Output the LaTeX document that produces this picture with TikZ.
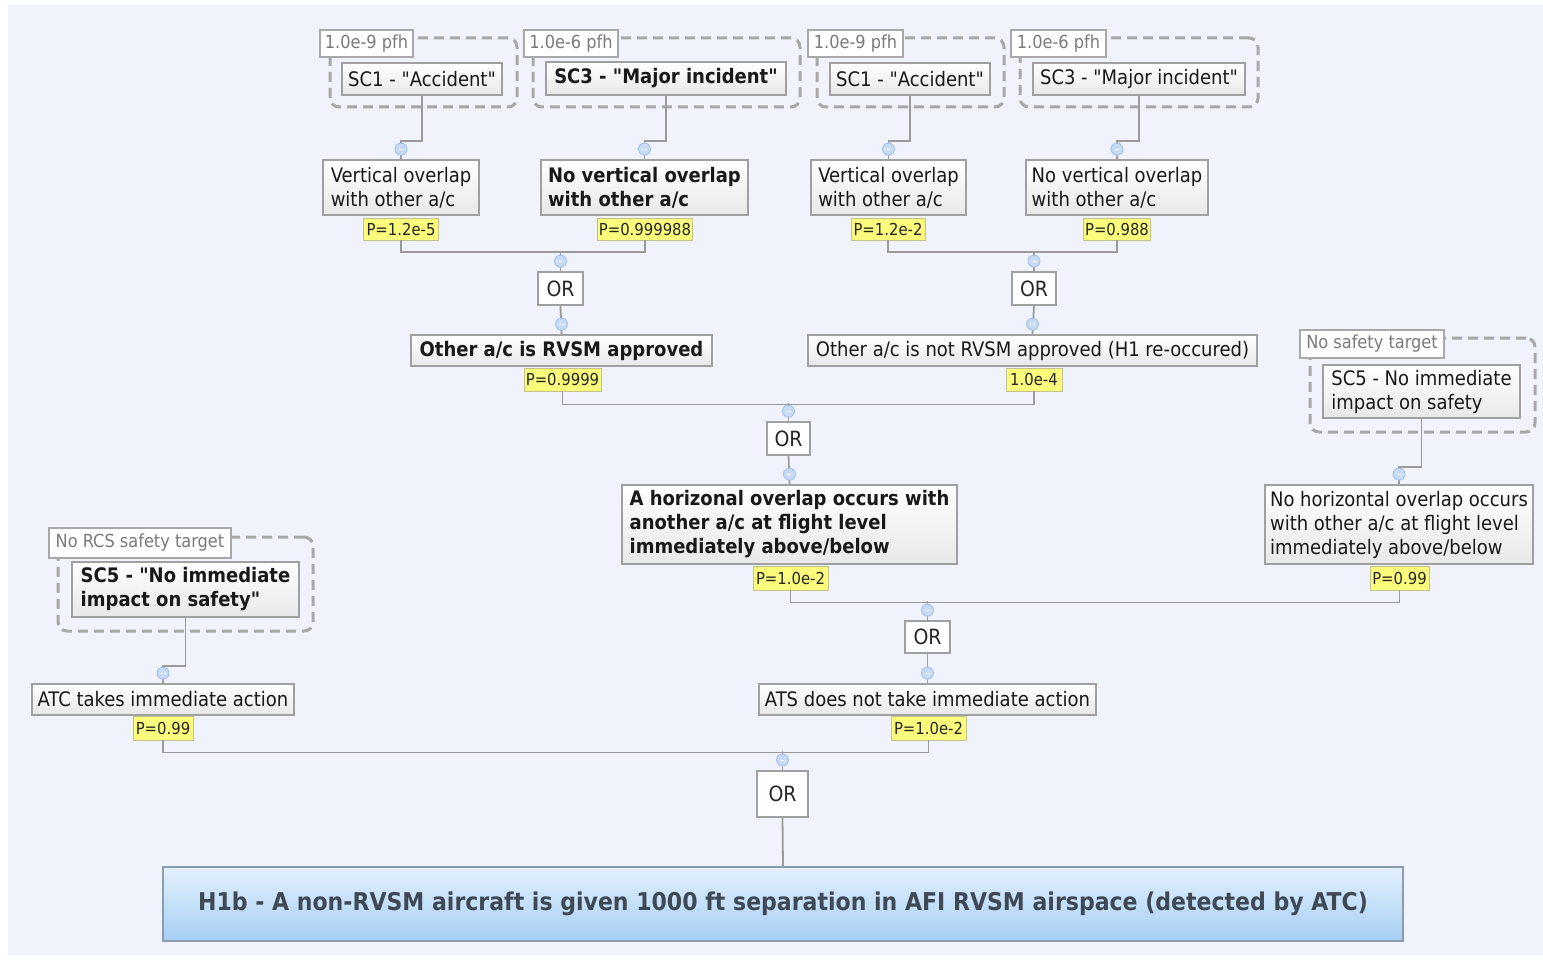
\documentclass[tikz,border=0pt]{standalone}
\usepackage{fontspec}
\setmainfont{DejaVu Sans Condensed}[Ligatures=TeXOff]
\definecolor{bgc}{HTML}{F0F3FB}
\definecolor{linkc}{HTML}{9A9A9A}
\definecolor{boxc}{HTML}{A0A0A0}
\definecolor{boxlow}{HTML}{E8E8E8}
\definecolor{tabc}{HTML}{A8A8A8}
\definecolor{tabtxt}{HTML}{7A7A7A}
\definecolor{tagc}{HTML}{FCFC7C}
\definecolor{tagline}{HTML}{C2C28C}
\definecolor{knobc}{HTML}{C6DBF6}
\definecolor{knobline}{HTML}{9EBDE9}
\definecolor{roottop}{HTML}{E3F0FD}
\definecolor{rootlow}{HTML}{A6CFF4}
\definecolor{rootline}{HTML}{8C9DB0}
\definecolor{roottxt}{HTML}{3F4955}
\tikzset{
  box/.style={draw=boxc, line width=1.7, top color=white, bottom color=boxlow,
    inner sep=0pt, align=left, text=black!90, font=\fontsize{20}{24}\selectfont},
  boldbox/.style={box, font=\fontsize{20}{24}\selectfont\bfseries},
  orbox/.style={draw=boxc, line width=1.7, fill=white, inner sep=0pt,
    text=black!85, font=\fontsize{21}{24}\selectfont},
  tag/.style={draw=tagline, line width=0.8, fill=tagc, inner sep=0pt,
    text=black!85, font=\fontsize{16.5}{19}\selectfont},
  tab/.style={draw=tabc, line width=2.8, fill=white, inner sep=0pt,
    text=tabtxt, font=\fontsize{18}{20}\selectfont},
  frame/.style={draw=tabc, line width=3, dash pattern=on 10pt off 6pt,
    rounded corners=9pt, inner sep=0pt},
  link/.style={draw=linkc, line width=1.8},
  knob/.style={circle, draw=knobline, fill=knobc, line width=0.8,
    minimum size=12pt, inner sep=0pt,
    path picture={\draw[white, line width=1] ([xshift=-2.5pt]path picture bounding box.center) -- ([xshift=2.5pt]path picture bounding box.center);}},
  rootbox/.style={draw=rootline, line width=1.6, top color=roottop, bottom color=rootlow,
    inner sep=0pt, text=roottxt, font=\fontsize{24.5}{28}\selectfont\bfseries},
  sz/.style 2 args={minimum width=#1pt, minimum height=#2pt}
}
\begin{document}
\begin{tikzpicture}[x=1pt,y=-1pt]
\useasboundingbox (0,0) rectangle (1543,960);
\fill[bgc] (8,5) rectangle (1543,955);

% ---- safety-target groups (dashed frames, tabs, severity classes)
\node[frame, sz={187}{69}] (g1) at (423.5,72.5) {};
\node[frame, sz={267}{69}] (g2) at (666.5,72.5) {};
\node[frame, sz={187}{69}] (g3) at (910.5,72.5) {};
\node[frame, sz={238}{69}] (g4) at (1139,72.5) {};
\node[frame, sz={225}{94}] (g5) at (1422.5,385) {};
\node[frame, sz={255}{94}] (g6) at (185.5,584) {};

\node[tab, sz={93}{27}] (t1) at (366.5,43.5) {1.0e-9 pfh};
\node[tab, sz={94}{27}] (t2) at (571,43.5) {1.0e-6 pfh};
\node[tab, sz={95}{27}] (t3) at (855.5,43.5) {1.0e-9 pfh};
\node[tab, sz={95}{27}] (t4) at (1058.5,43.5) {1.0e-6 pfh};
\node[tab, sz={144}{28}] (t5) at (1372,344) {No safety target};
\node[tab, sz={182}{30}] (t6) at (140,543) {No RCS safety target};

\node[box, sz={160}{32}] (s1) at (422,79) {SC1 - "Accident"};
\node[boldbox, sz={240}{33}] (s2) at (666,78.5) {SC3 - "Major incident"};
\node[box, sz={160}{32}] (s3) at (910,79) {SC1 - "Accident"};
\node[box, sz={212}{32}] (s4) at (1139,79) {SC3 - "Major incident"};
\node[box, sz={197}{53}] (s5) at (1421.5,391.5) {SC5 - No immediate\\impact on safety};
\node[boldbox, sz={227}{55}] (s6) at (185.5,589.5) {SC5 - "No immediate\\impact on safety"};

% ---- vertical overlap events
\node[box, sz={156}{55}] (v1) at (401,187.5) {Vertical overlap\\with other a/c};
\node[boldbox, sz={207}{55}] (v2) at (644.5,187.5) {No vertical overlap\\with other a/c};
\node[box, sz={155}{55}] (v3) at (888.5,187.5) {Vertical overlap\\with other a/c};
\node[box, sz={182}{55}] (v4) at (1117,187.5) {No vertical overlap\\with other a/c};
\node[tag, sz={75}{22}] (p1) at (401,229) {P=1.2e-5};
\node[tag, sz={95}{22}] (p2) at (645,229) {P=0.999988};
\node[tag, sz={74}{22}] (p3) at (888,229) {P=1.2e-2};
\node[tag, sz={67}{22}] (p4) at (1117,229) {P=0.988};

% ---- RVSM approval of the other aircraft
\node[orbox, sz={45}{33}] (or1) at (560.5,288.5) {OR};
\node[orbox, sz={44}{33}] (or2) at (1034,288.5) {OR};
\node[boldbox, sz={301}{31}, align=center] (a1) at (561.5,350.5) {Other a/c is RVSM approved};
\node[box, sz={449}{31}, align=center] (a2) at (1032.5,350.5) {Other a/c is not RVSM approved (H1 re-occured)};
\node[tag, sz={77}{23}] (q1) at (562.5,379.5) {P=0.9999};
\node[tag, sz={56}{23}] (q2) at (1034,379.5) {1.0e-4};

% ---- horizontal overlap
\node[orbox, sz={43}{33}] (or3) at (788.5,438.5) {OR};
\node[boldbox, sz={335}{79}] (h1) at (789.5,524.5) {A horizonal overlap occurs with\\another a/c at flight level\\immediately above/below};
\node[box, sz={268}{79}] (h2) at (1399,524.5) {No horizontal overlap occurs\\with other a/c at flight level\\immediately above/below};
\node[tag, sz={75}{24}] (r1) at (790.5,578) {P=1.0e-2};
\node[tag, sz={59}{24}] (r2) at (1399.5,578) {P=0.99};

% ---- ATC / ATS action
\node[orbox, sz={45}{32}] (or4) at (927.5,637) {OR};
\node[box, sz={337}{31}, align=center] (n1) at (927.5,699.5) {ATS does not take immediate action};
\node[box, sz={262}{31}, align=center] (n2) at (163,699.5) {ATC takes immediate action};
\node[tag, sz={75}{24}] (u1) at (928.5,728) {P=1.0e-2};
\node[tag, sz={60}{24}] (u2) at (163,728) {P=0.99};

% ---- top event
\node[orbox, sz={51}{46}] (or5) at (782.5,794) {OR};
\node[rootbox, sz={1240}{74}] (root) at (783,904) {H1b - A non-RVSM aircraft is given 1000 ft separation in AFI RVSM airspace (detected by ATC)};

% ---- connectors
\draw[link] (s1.south) -- ++(0,45) -| (v1.north);
\draw[link] (s2.south) -- ++(0,45) -| (v2.north);
\draw[link] (s3.south) -- ++(0,45) -| (v3.north);
\draw[link] (s4.south) -- ++(0,45) -| (v4.north);
\draw[link] (s5.south) -- ++(0,48) -| (h2.north);
\draw[link] (s6.south) -- ++(0,48) -| (n2.north);

\draw[link] (p1.south) -- ++(0,12) -| (p2.south);
\draw[link] (p3.south) -- ++(0,12) -| (p4.south);
\draw[link] (or1.north) -- ++(0,-20);
\draw[link] (or2.north) -- ++(0,-20);
\draw[link] (or1.south) -- (a1.north);
\draw[link] (or2.south) -- (a2.north);

\draw[link] (q1.south) -- ++(0,13) -| (q2.south);
\draw[link] (or3.north) -- ++(0,-18);
\draw[link] (or3.south) -- (h1.north);

\draw[link] (r1.south) -- ++(0,12) -| (r2.south);
\draw[link] (or4.north) -- ++(0,-19);
\draw[link] (or4.south) -- (n1.north);

\draw[link] (u2.south) -- ++(0,12) -| (u1.south);
\draw[link] (or5.north) -- ++(0,-19);
\draw[link] (or5.south) -- (root.north);

% ---- collapse knobs
\node[knob] (k1) at ([yshift=10pt]v1.north) {};
\node[knob] (k2) at ([yshift=10pt]v2.north) {};
\node[knob] (k3) at ([yshift=10pt]v3.north) {};
\node[knob] (k4) at ([yshift=10pt]v4.north) {};
\node[knob] (k5) at ([yshift=10pt]or1.north) {};
\node[knob] (k6) at ([yshift=10pt]or2.north) {};
\node[knob] (k7) at ([yshift=10pt]a1.north) {};
\node[knob] (k8) at ([yshift=10pt]a2.north) {};
\node[knob] (k9) at ([yshift=10pt]or3.north) {};
\node[knob] (k10) at ([yshift=10pt]h1.north) {};
\node[knob] (k11) at ([yshift=10pt]h2.north) {};
\node[knob] (k12) at ([yshift=10pt]or4.north) {};
\node[knob] (k13) at ([yshift=10pt]n1.north) {};
\node[knob] (k14) at ([yshift=10pt]n2.north) {};
\node[knob] (k15) at ([yshift=10pt]or5.north) {};
\end{tikzpicture}
\end{document}
